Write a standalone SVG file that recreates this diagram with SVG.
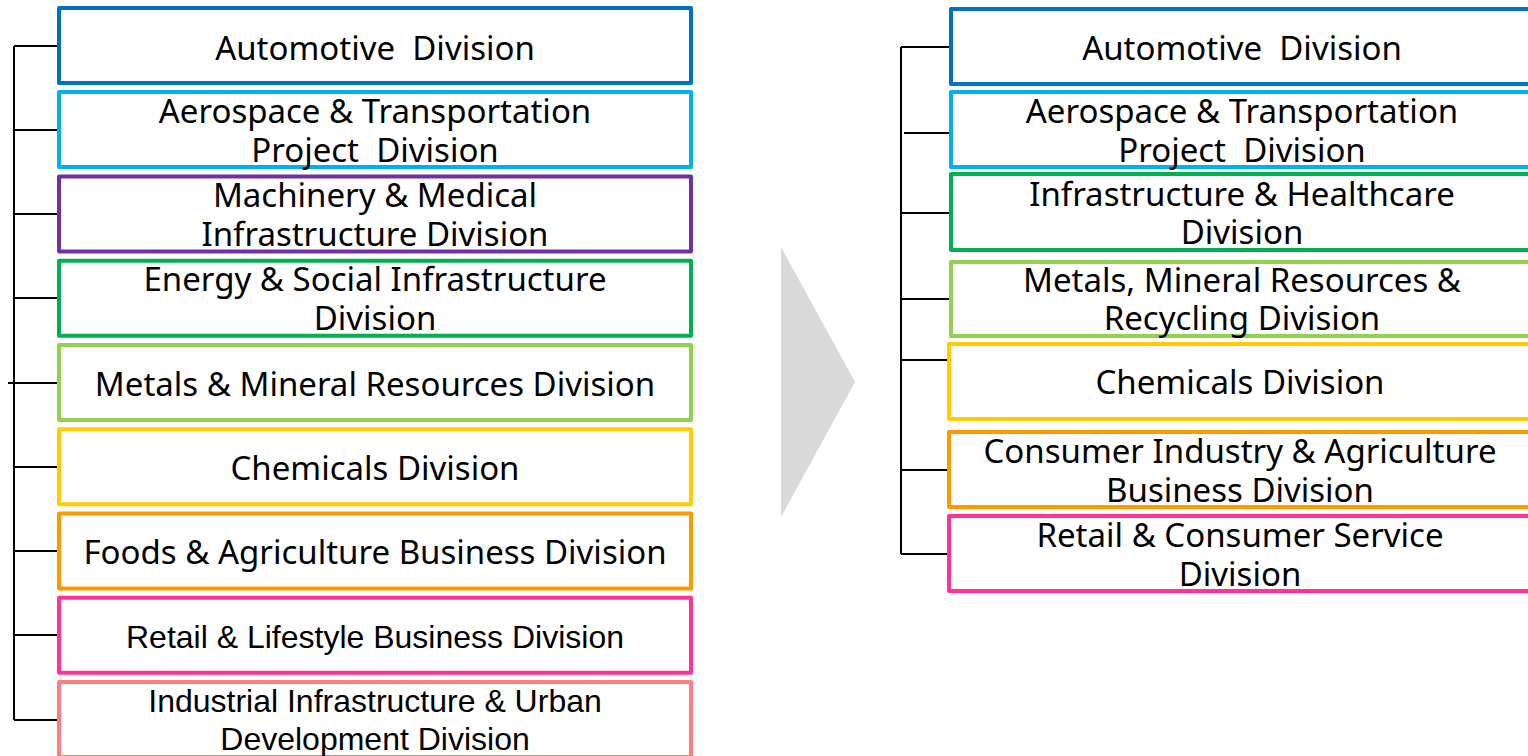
<svg xmlns="http://www.w3.org/2000/svg" width="1528" height="756" viewBox="0 0 1528 756">
  <style>
    .box { fill: #ffffff; stroke-width: 4; stroke-linejoin: round; }
    .lbl { font-family: "Noto Sans", "DejaVu Sans", sans-serif; font-size: 33px; fill: #000000; text-anchor: middle; }
    .lbl-a { font-family: "Liberation Sans", Arial, sans-serif; font-size: 32px; fill: #000000; text-anchor: middle; }
    .wire { stroke: #000000; stroke-width: 2; fill: none; }
  </style>

  <rect x="0" y="0" width="1528" height="756" fill="#ffffff"/>

  <!-- connectors -->
  <g id="connectors">
    <!-- left tree -->
    <path class="wire" d="M14 46 V720"/>
    <path class="wire" d="M14 46 H58 M14 130 H58 M14 214 H58 M14 298 H58 M8 383 H58 M14 467 H58 M14 551 H58 M14 635 H58 M14 720 H58"/>
    <!-- right tree -->
    <path class="wire" d="M901 47 V554"/>
    <path class="wire" d="M901 47 H950 M904 133 H951 M901 213 H950 M901 299 H951 M901 360 H948 M901 470 H948 M901 554 H948"/>
  </g>

  <!-- transition arrow -->
  <g id="arrow">
    <polygon points="781,247 855,382 781,517" fill="#d9d9d9"/>
  </g>

  <!-- left column -->
  <g id="l-automotive">
    <rect class="box" x="59" y="8" width="632" height="75" stroke="#0070c0"/>
    <text class="lbl" x="375" y="60" xml:space="preserve">Automotive  Division</text>
  </g>
  <g id="l-aerospace">
    <rect class="box" x="59" y="92" width="632" height="75" stroke="#00b0f0"/>
    <text class="lbl" x="375" y="123">Aerospace &amp; Transportation</text>
    <text class="lbl" x="375" y="162" xml:space="preserve">Project  Division</text>
  </g>
  <g id="l-machinery">
    <rect class="box" x="59" y="176.5" width="632" height="75" stroke="#7030a0"/>
    <text class="lbl" x="375" y="207">Machinery &amp; Medical</text>
    <text class="lbl" x="375" y="246">Infrastructure Division</text>
  </g>
  <g id="l-energy">
    <rect class="box" x="59" y="260.75" width="632" height="75" stroke="#00b050"/>
    <text class="lbl" x="375" y="291">Energy &amp; Social Infrastructure</text>
    <text class="lbl" x="375" y="330">Division</text>
  </g>
  <g id="l-metals">
    <rect class="box" x="59" y="345" width="632" height="75" stroke="#92d050"/>
    <text class="lbl" x="375" y="396">Metals &amp; Mineral Resources Division</text>
  </g>
  <g id="l-chemicals">
    <rect class="box" x="59" y="429.25" width="632" height="75" stroke="#ffcc00"/>
    <text class="lbl" x="375" y="480">Chemicals Division</text>
  </g>
  <g id="l-foods">
    <rect class="box" x="59" y="513.5" width="632" height="75" stroke="#ff9900"/>
    <text class="lbl" x="375" y="564">Foods &amp; Agriculture Business Division</text>
  </g>
  <g id="l-retail">
    <rect class="box" x="59" y="597.75" width="632" height="75" stroke="#ff3399"/>
    <text class="lbl-a" x="375" y="648">Retail &amp; Lifestyle Business Division</text>
  </g>
  <g id="l-industrial">
    <rect class="box" x="59" y="682" width="632" height="75" stroke="#ff7c80"/>
    <text class="lbl-a" x="375" y="712">Industrial Infrastructure &amp; Urban</text>
    <text class="lbl-a" x="375" y="750">Development Division</text>
  </g>

  <!-- right column -->
  <g id="r-automotive">
    <rect class="box" x="951" y="9" width="600" height="75" stroke="#0070c0"/>
    <text class="lbl" x="1242" y="60" xml:space="preserve">Automotive  Division</text>
  </g>
  <g id="r-aerospace">
    <rect class="box" x="951" y="92" width="600" height="75" stroke="#00b0f0"/>
    <text class="lbl" x="1242" y="123">Aerospace &amp; Transportation</text>
    <text class="lbl" x="1242" y="162" xml:space="preserve">Project  Division</text>
  </g>
  <g id="r-infrastructure">
    <rect class="box" x="951" y="174" width="600" height="76" stroke="#00b050"/>
    <text class="lbl" x="1242" y="206">Infrastructure &amp; Healthcare</text>
    <text class="lbl" x="1242" y="244">Division</text>
  </g>
  <g id="r-metals">
    <rect class="box" x="951" y="262" width="600" height="74" stroke="#92d050"/>
    <text class="lbl" x="1242" y="292">Metals, Mineral Resources &amp;</text>
    <text class="lbl" x="1242" y="330">Recycling Division</text>
  </g>
  <g id="r-chemicals">
    <rect class="box" x="949" y="344" width="600" height="75" stroke="#ffcc00"/>
    <text class="lbl" x="1240" y="394">Chemicals Division</text>
  </g>
  <g id="r-consumer">
    <rect class="box" x="949" y="432" width="600" height="75" stroke="#ff9900"/>
    <text class="lbl" x="1240" y="463">Consumer Industry &amp; Agriculture</text>
    <text class="lbl" x="1240" y="502">Business Division</text>
  </g>
  <g id="r-retail">
    <rect class="box" x="949" y="516" width="600" height="75" stroke="#ff3399"/>
    <text class="lbl" x="1240" y="547">Retail &amp; Consumer Service</text>
    <text class="lbl" x="1240" y="586">Division</text>
  </g>
</svg>
